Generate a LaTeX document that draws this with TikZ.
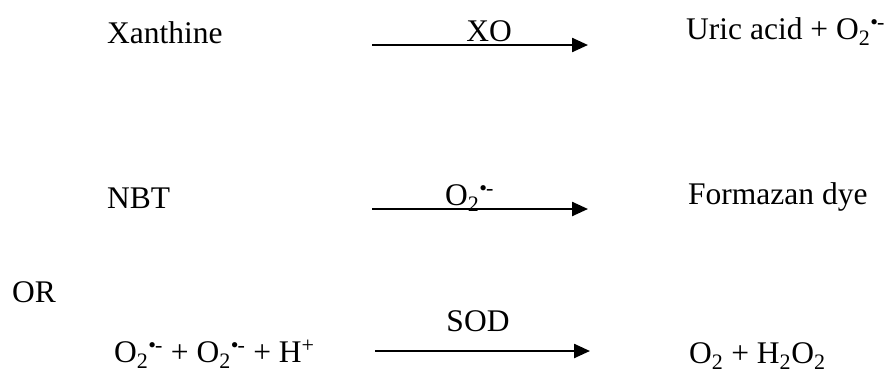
\documentclass[tikz,border=0pt]{standalone}
\usepackage{fontspec}
\setmainfont{Liberation Serif}
\usetikzlibrary{arrows.meta}
\tikzset{
  txt/.style={inner sep=0pt, anchor=base west, font=\fontsize{31.5}{36}\selectfont},
  lbl/.style={inner sep=0pt, anchor=base, font=\fontsize{31.5}{36}\selectfont},
  rxn/.style={line width=2.4pt, -{Triangle[length=16pt,width=14pt]}}
}
\newcommand{\supox}{O\textsubscript{2}\textsuperscript{•\kern-1pt-}}
\begin{document}
\begin{tikzpicture}[x=1pt,y=-1pt]
\useasboundingbox (0,0) rectangle (889,375);
% row 1
\node[txt] (xan) at (107,43) {Xanthine};
\coordinate (a1s) at (372,45);
\coordinate (a1e) at (588,45);
\draw[rxn] (a1s) -- (a1e);
\node[lbl] (xo) at (489,41) {XO};
\node[txt] (uric) at (686,39) {Uric acid + \supox};
% row 2
\node[txt] (nbt) at (107,208) {NBT};
\coordinate (a2s) at (372,209);
\coordinate (a2e) at (588,209);
\draw[rxn] (a2s) -- (a2e);
\node[txt] (sup) at (445,205) {\supox};
\node[txt] (form) at (688,204) {Formazan dye};
% OR
\node[txt] (or) at (12,302) {OR};
% row 3
\node[txt] (left) at (114,362) {\supox{} + \supox{} + H\textsuperscript{+}};
\coordinate (a3s) at (375,351);
\coordinate (a3e) at (590,351);
\draw[rxn] (a3s) -- (a3e);
\node[lbl] (sod) at (478,331) {SOD};
\node[txt] (prod) at (689,363) {O\textsubscript{2} + H\textsubscript{2}O\textsubscript{2}};
\end{tikzpicture}
\end{document}
